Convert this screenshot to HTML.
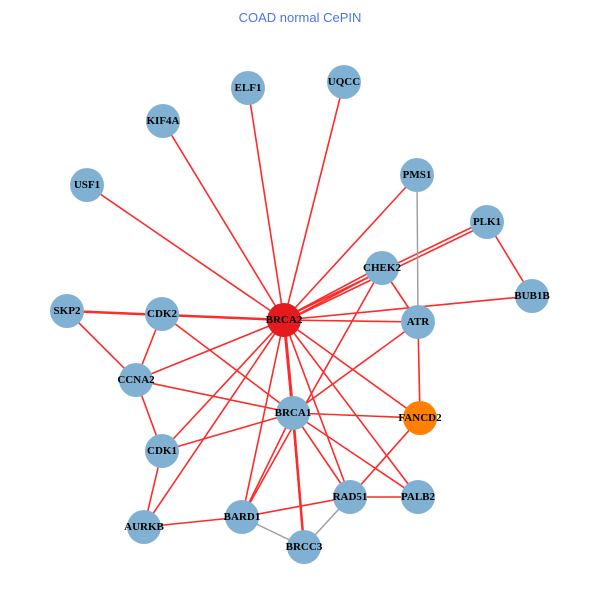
<!DOCTYPE html>
<html><head><meta charset="utf-8"><style>
html,body{margin:0;padding:0;background:#fff;}
svg{display:block;}
.l{font-family:"Liberation Serif",serif;font-weight:bold;font-size:11px;fill:#000;text-anchor:middle;dominant-baseline:central;}
</style></head><body>
<svg width="600" height="600" viewBox="0 0 600 600">
<text x="300" y="22" font-family="Liberation Sans,sans-serif" font-size="13" fill="#4a74e8" text-anchor="middle">COAD normal CePIN</text>
<g stroke="#ff2a2a" stroke-width="1.6">
<line x1="284" y1="320" x2="248" y2="88"/>
<line x1="284" y1="320" x2="344" y2="82"/>
<line x1="284" y1="320" x2="163" y2="121"/>
<line x1="284" y1="320" x2="87" y2="185"/>
<line x1="284" y1="320" x2="417" y2="175"/>
<line x1="284" y1="318" x2="487" y2="220"/>
<line x1="284" y1="322" x2="487" y2="224"/>
<line x1="284" y1="318" x2="382" y2="266"/>
<line x1="284" y1="322" x2="382" y2="270"/>
<line x1="284" y1="320" x2="532" y2="296"/>
<line x1="284" y1="320" x2="67" y2="311" stroke-width="2.5"/>
<line x1="284" y1="320" x2="418" y2="322"/>
<line x1="284" y1="320" x2="136" y2="380"/>
<line x1="284" y1="320" x2="293" y2="413" stroke-width="3"/>
<line x1="284" y1="320" x2="162" y2="451"/>
<line x1="284" y1="320" x2="144" y2="527"/>
<line x1="284" y1="320" x2="242" y2="517"/>
<line x1="284" y1="320" x2="304" y2="547"/>
<line x1="284" y1="320" x2="350" y2="497"/>
<line x1="284" y1="320" x2="418" y2="497"/>
<line x1="284" y1="320" x2="420" y2="418"/>
<line x1="487" y1="222" x2="532" y2="296"/>
<line x1="382" y1="268" x2="418" y2="322"/>
<line x1="382" y1="268" x2="242" y2="517"/>
<line x1="418" y1="322" x2="420" y2="418"/>
<line x1="418" y1="322" x2="293" y2="413"/>
<line x1="67" y1="311" x2="136" y2="380"/>
<line x1="162" y1="314" x2="136" y2="380"/>
<line x1="162" y1="314" x2="293" y2="413"/>
<line x1="136" y1="380" x2="293" y2="413"/>
<line x1="136" y1="380" x2="162" y2="451"/>
<line x1="162" y1="451" x2="293" y2="413"/>
<line x1="162" y1="451" x2="144" y2="527"/>
<line x1="293" y1="413" x2="420" y2="418"/>
<line x1="293" y1="413" x2="350" y2="497"/>
<line x1="293" y1="413" x2="418" y2="497"/>
<line x1="293" y1="413" x2="242" y2="517"/>
<line x1="293" y1="413" x2="304" y2="547" stroke-width="2.5"/>
<line x1="420" y1="418" x2="350" y2="497"/>
<line x1="350" y1="497" x2="418" y2="497"/>
<line x1="350" y1="497" x2="242" y2="517"/>
<line x1="144" y1="527" x2="242" y2="517"/>
</g>
<g stroke="#a0a0a0" stroke-width="1.5">
<line x1="417" y1="175" x2="418" y2="322"/>
<line x1="242" y1="517" x2="304" y2="547"/>
<line x1="350" y1="497" x2="304" y2="547"/>
</g>
<g fill="#80b1d3">
<circle cx="248" cy="88" r="17"/><circle cx="344" cy="82" r="17"/>
<circle cx="163" cy="121" r="17"/><circle cx="87" cy="185" r="17"/>
<circle cx="417" cy="175" r="17"/><circle cx="487" cy="222" r="17"/>
<circle cx="382" cy="268" r="17"/><circle cx="532" cy="296" r="17"/>
<circle cx="67" cy="311" r="17"/><circle cx="162" cy="314" r="17"/>
<circle cx="418" cy="322" r="17"/><circle cx="136" cy="380" r="17"/>
<circle cx="293" cy="413" r="17"/><circle cx="162" cy="451" r="17"/>
<circle cx="350" cy="497" r="17"/><circle cx="418" cy="497" r="17"/>
<circle cx="144" cy="527" r="17"/><circle cx="242" cy="517" r="17"/>
<circle cx="304" cy="547" r="17"/>
</g>
<circle cx="284" cy="320" r="17" fill="#e41a1c"/>
<circle cx="420" cy="418" r="17" fill="#ff7f00"/>
<g class="l">
<text class="l" x="248" y="88">ELF1</text><text class="l" x="344" y="82">UQCC</text>
<text class="l" x="163" y="121">KIF4A</text><text class="l" x="87" y="185">USF1</text>
<text class="l" x="417" y="175">PMS1</text><text class="l" x="487" y="222">PLK1</text>
<text class="l" x="382" y="268">CHEK2</text><text class="l" x="532" y="296">BUB1B</text>
<text class="l" x="67" y="311">SKP2</text><text class="l" x="162" y="314">CDK2</text>
<text class="l" x="284" y="320">BRCA2</text>
<text class="l" x="418" y="322">ATR</text><text class="l" x="136" y="380">CCNA2</text>
<text class="l" x="293" y="413">BRCA1</text><text class="l" x="420" y="418">FANCD2</text>
<text class="l" x="162" y="451">CDK1</text>
<text class="l" x="350" y="497">RAD51</text><text class="l" x="418" y="497">PALB2</text>
<text class="l" x="144" y="527">AURKB</text><text class="l" x="242" y="517">BARD1</text>
<text class="l" x="304" y="547">BRCC3</text>
</g>
</svg>
</body></html>
